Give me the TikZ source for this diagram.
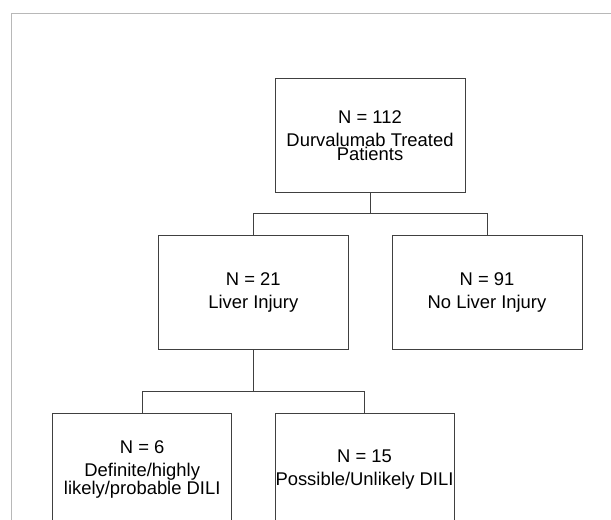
\documentclass[tikz,border=0pt]{standalone}
\usepackage{fontspec}
\setmainfont{Liberation Sans}
\usetikzlibrary{positioning}
\tikzset{%
  flowbox/.style = {shape=rectangle, draw=black!75, line width=1bp,%
                    align=center, inner sep=0pt,%
                    font=\fontsize{18.4bp}{14bp}\selectfont},%
  wide/.style    = {flowbox, minimum width=190bp, minimum height=113bp},%
  narrow/.style  = {flowbox, minimum width=179bp, minimum height=113bp},%
  link/.style    = {draw=black!75, line width=1bp},%
  frame/.style   = {draw=black!28, line width=1bp}%
}
\newcommand{\gapline}{\\[9bp]}
\begin{document}
\begin{tikzpicture}[x=1bp, y=-1bp]
  \useasboundingbox (0,0) rectangle (611,520);
  % outer frame, cut at the page edge
  \draw[frame] (611,13.5) -- (11.5,13.5) -- (11.5,520);
  % boxes
  \node[wide]   (treated)  at (370,135.5) {N = 112\gapline Durvalumab Treated\\Patients};
  \node[wide]   (injury)   at (253.3,292.5) {N = 21\gapline Liver Injury};
  \node[wide]   (noinjury) at (487,292.5) {N = 91\gapline No Liver Injury};
  \node[narrow] (dili)     at (142.2,469.5) {N = 6\gapline Definite/highly\\likely/probable DILI};
  \node[narrow] (possible) at (364.5,469.5) {N = 15\gapline Possible/Unlikely DILI};
  % forks
  \coordinate (fork1) at (370,214);
  \coordinate (fork2) at (253.3,391);
  \draw[link] (treated) -- (fork1);
  \draw[link] (fork1) -| (injury);
  \draw[link] (fork1) -| (noinjury);
  \draw[link] (injury) -- (fork2);
  \draw[link] (fork2) -| (dili);
  \draw[link] (fork2) -| (possible);
\end{tikzpicture}
\end{document}
